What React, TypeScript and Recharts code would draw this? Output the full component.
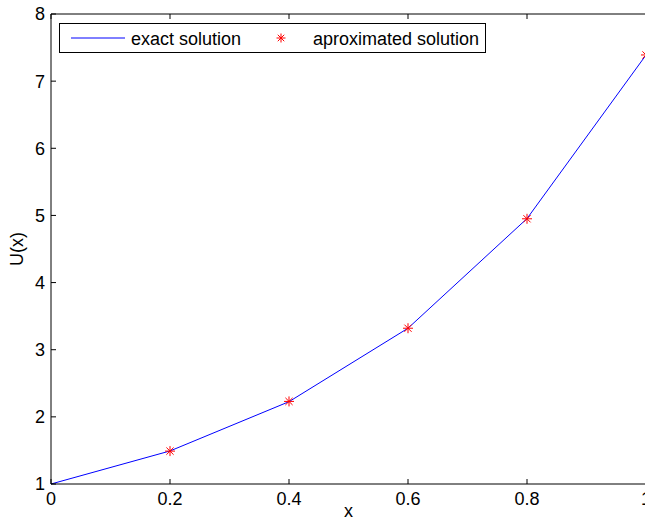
import { LineChart, Line, XAxis, YAxis, Legend, Label } from "recharts";

const xValues = [0, 0.2, 0.4, 0.6, 0.8, 1];
const exactValues = [1, 1.492, 2.226, 3.32, 4.953, 7.389];
const approxValues = [null, 1.49, 2.23, 3.32, 4.95, 7.39];
const xTicks = [0, 0.2, 0.4, 0.6, 0.8, 1];
const yTicks = [1, 2, 3, 4, 5, 6, 7, 8];

const FONT = '"Liberation Sans", Arial, Helvetica, sans-serif';
const BLUE = "#0000ff";
const RED = "#ff0000";

const data = xValues.map((x, i) => ({ x, exact: exactValues[i], approx: approxValues[i] }));

// matlab-style '*' marker
const Asterisk = ({ cx, cy, size = 5 }: { cx: number; cy: number; size?: number }) => {
  const d = size * 0.72;
  return (
    <g stroke={RED} strokeWidth={1}>
      <line x1={cx - size} y1={cy} x2={cx + size} y2={cy} />
      <line x1={cx} y1={cy - size} x2={cx} y2={cy + size} />
      <line x1={cx - d} y1={cy - d} x2={cx + d} y2={cy + d} />
      <line x1={cx - d} y1={cy + d} x2={cx + d} y2={cy - d} />
    </g>
  );
};

const renderStar = (props: any) => {
  const { cx, cy, index, value } = props;
  if (value == null || cy == null || isNaN(cy)) return <g key={index} />;
  return <Asterisk key={index} cx={cx} cy={cy} />;
};

const LegendBox = () => (
  <svg width={427} height={30} style={{ display: "block", fontFamily: FONT }}>
    <rect x={0.5} y={0.5} width={426} height={29} fill="#fff" stroke="#000" />
    <line x1={12} y1={15} x2={66} y2={15} stroke={BLUE} strokeWidth={1} />
    <text x={72} y={22} fontSize={18} fill="#000">exact solution</text>
    <Asterisk cx={222} cy={15} size={4.5} />
    <text x={254} y={22} fontSize={18} fill="#000">aproximated solution</text>
  </svg>
);

const tickStyle = { fontSize: 18, fill: "#000", fontFamily: FONT };

export default function App() {
  return (
    <div style={{ position: "fixed", left: 0, top: 0, width: 645, height: 529, overflow: "hidden", background: "#fff" }}>
      <LineChart width={660} height={529} data={data} margin={{ top: 0, right: 0, bottom: 0, left: 0 }}>
        <XAxis
          xAxisId="bottom"
          dataKey="x"
          type="number"
          domain={[0, 1]}
          ticks={xTicks}
          height={45}
          tickSize={-5}
          tickMargin={13}
          tick={tickStyle}
          stroke="#000"
          tickFormatter={(v: number) => String(v)}
        >
          <Label
            content={(p: any) => (
              <text
                x={p.viewBox.x + p.viewBox.width / 2}
                y={p.viewBox.y + 33}
                textAnchor="middle"
                fontSize={18}
                fontFamily={FONT}
                fill="#000"
              >
                x
              </text>
            )}
          />
        </XAxis>
        <XAxis
          xAxisId="top"
          orientation="top"
          dataKey="x"
          type="number"
          domain={[0, 1]}
          ticks={xTicks}
          height={14}
          tickSize={-5}
          tickFormatter={() => ""}
          stroke="#000"
        />
        <YAxis
          yAxisId="left"
          type="number"
          domain={[1, 8]}
          ticks={yTicks}
          width={51}
          tickSize={-5}
          tickMargin={11}
          tick={tickStyle}
          stroke="#000"
        >
          <Label
            content={(p: any) => {
              const cx = p.viewBox.x + 23;
              const cy = p.viewBox.y + p.viewBox.height / 2;
              return (
                <text
                  x={cx}
                  y={cy}
                  transform={`rotate(-90 ${cx} ${cy})`}
                  textAnchor="middle"
                  fontSize={18}
                  fontFamily={FONT}
                  fill="#000"
                >
                  U(x)
                </text>
              );
            }}
          />
        </YAxis>
        <YAxis
          yAxisId="right"
          orientation="right"
          type="number"
          domain={[1, 8]}
          ticks={yTicks}
          width={14}
          tickSize={-5}
          tickFormatter={() => ""}
          stroke="#000"
        />
        <Line
          xAxisId="bottom"
          yAxisId="left"
          dataKey="exact"
          stroke={BLUE}
          strokeWidth={1}
          dot={false}
          activeDot={false}
          isAnimationActive={false}
        />
        <Line
          xAxisId="bottom"
          yAxisId="left"
          dataKey="approx"
          stroke="none"
          dot={renderStar}
          activeDot={false}
          connectNulls={false}
          isAnimationActive={false}
        />
        <Legend
          layout="horizontal"
          verticalAlign="middle"
          align="center"
          wrapperStyle={{ left: 59, top: 23, width: 427, height: 30 }}
          content={() => <LegendBox />}
        />
      </LineChart>
    </div>
  );
}
